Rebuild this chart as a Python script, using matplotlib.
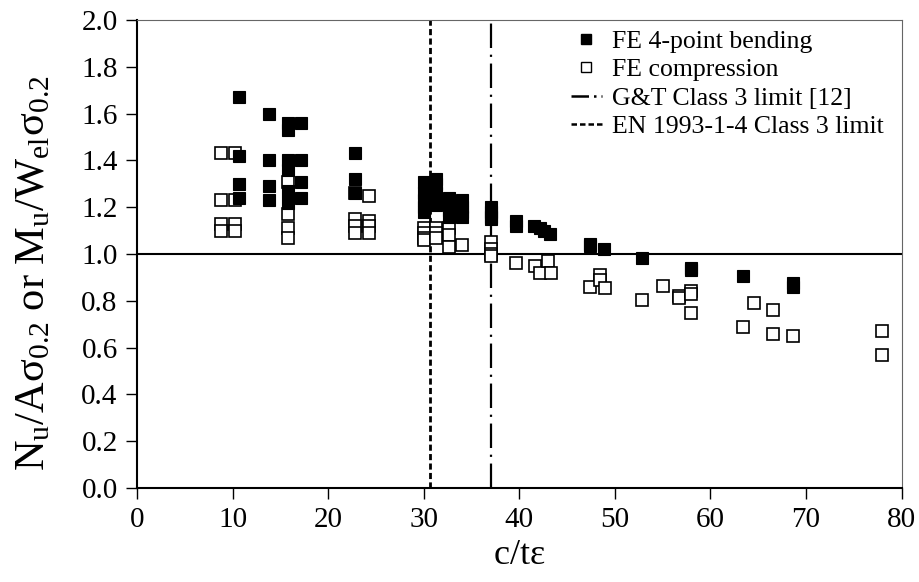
import matplotlib.pyplot as plt
from matplotlib.lines import Line2D

plt.rcParams.update({
    "font.family": "Liberation Serif",
    "mathtext.fontset": "custom",
    "mathtext.rm": "Liberation Serif",
    "mathtext.it": "Liberation Serif:italic",
})

# FE 4-point bending results (c/te, Mu/Wel s0.2)
bend_x = [10.7, 10.7, 10.7, 10.7,
          13.8, 13.8, 13.8, 13.8,
          15.8, 15.8, 15.8, 15.8, 15.8, 15.8,
          17.2, 17.2, 17.2, 17.2,
          22.8, 22.8, 22.8,
          30.0, 30.0, 30.0, 30.0, 30.0,
          31.3, 31.3, 31.3, 31.3,
          32.6, 32.6, 32.6, 32.6,
          34.0, 34.0, 34.0, 34.0,
          37.0, 37.0, 37.0, 37.0,
          39.7, 39.7, 41.5, 42.2, 42.6, 43.2,
          47.4, 47.4, 48.9, 52.8, 58.0, 58.0, 63.4, 68.6, 68.6]
bend_y = [1.67, 1.42, 1.30, 1.24,
          1.60, 1.40, 1.29, 1.23,
          1.56, 1.53, 1.40, 1.36, 1.27, 1.22,
          1.56, 1.40, 1.31, 1.24,
          1.43, 1.32, 1.26,
          1.31, 1.26, 1.23, 1.20, 1.18,
          1.32, 1.30, 1.26, 1.21,
          1.24, 1.22, 1.19, 1.16,
          1.23, 1.20, 1.18, 1.16,
          1.20, 1.18, 1.16, 1.15,
          1.14, 1.12, 1.12, 1.11, 1.10, 1.085,
          1.045, 1.035, 1.02, 0.985, 0.94, 0.93, 0.905, 0.875, 0.86]

# FE compression results (c/te, Nu/A s0.2)
comp_x = [8.8, 8.8, 8.8, 8.8,
          10.2, 10.2, 10.2, 10.2,
          15.8, 15.8, 15.8, 15.8,
          22.8, 22.8, 22.8, 22.8,
          24.3, 24.3, 24.3, 24.3,
          30.0, 30.0, 30.0, 30.0,
          31.3, 31.3, 31.3,
          32.6, 32.6, 32.6,
          34.0,
          37.0, 37.0, 37.0, 37.0,
          39.7, 41.6, 42.2, 43.0, 43.3,
          47.4, 48.4, 48.4, 49.0, 52.8, 55.0, 56.7, 56.7,
          58.0, 58.0, 58.0, 63.4, 64.6, 66.5, 66.5, 68.6, 77.9, 77.9]
comp_y = [1.43, 1.23, 1.13, 1.10,
          1.43, 1.23, 1.13, 1.10,
          1.31, 1.17, 1.11, 1.07,
          1.26, 1.15, 1.12, 1.09,
          1.25, 1.14, 1.12, 1.09,
          1.11, 1.09, 1.07, 1.06,
          1.11, 1.09, 1.07,
          1.11, 1.08, 1.03,
          1.04,
          1.05, 1.02, 1.00, 0.99,
          0.96, 0.95, 0.92, 0.97, 0.92,
          0.86, 0.91, 0.89, 0.855, 0.805, 0.865, 0.82, 0.81,
          0.84, 0.83, 0.75, 0.69, 0.79, 0.76, 0.66, 0.65, 0.67, 0.57]

EN_LIMIT = 30.7   # EN 1993-1-4 Class 3 limit
GT_LIMIT = 37.0   # G&T Class 3 limit [12]

x_ticks = [0, 10, 20, 30, 40, 50, 60, 70, 80]
y_ticks = [0.0, 0.2, 0.4, 0.6, 0.8, 1.0, 1.2, 1.4, 1.6, 1.8, 2.0]

EN_DASH = (0, (2.2, 1.2))
GT_DASH = (0, (11, 3, 1, 3))

fig = plt.figure(figsize=(9.2, 5.82), dpi=100)
ax = fig.add_axes([0.149, 0.1615, 0.831, 0.804])

ax.axhline(1.0, color="black", lw=1.5, zorder=1)
ax.axvline(EN_LIMIT, color="black", lw=2.0, ls=EN_DASH, zorder=1)
ax.axvline(GT_LIMIT, color="black", lw=1.6, ls=GT_DASH, zorder=1)

ax.plot(comp_x, comp_y, ls="none", marker="s", ms=8, mfc="white",
        mec="black", mew=1.2, zorder=3)
ax.plot(bend_x, bend_y, ls="none", marker="s", ms=8, mfc="black",
        mec="black", mew=0.8, zorder=4)

ax.set_xlim(0, 80)
ax.set_ylim(0, 2.0)
ax.set_xticks(x_ticks)
ax.set_yticks(y_ticks)
ax.set_yticklabels([f"{v:.1f}" for v in y_ticks])
ax.tick_params(direction="out", length=8, width=1.0, labelsize=21, pad=6)

for side in ("left", "bottom"):
    ax.spines[side].set_linewidth(1.5)
for side in ("top", "right"):
    ax.spines[side].set_linewidth(0.8)
    ax.spines[side].set_color("#666666")

ax.set_xlabel(r"c/t$\mathregular{\varepsilon}$", fontsize=26, labelpad=4)
ax.set_ylabel("N$_\\mathregular{u}$/A\u03c3$_\\mathregular{0.2}$ or "
              "M$_\\mathregular{u}$/W$_\\mathregular{el}$\u03c3$_\\mathregular{0.2}$",
              fontsize=30.5)
ax.yaxis.set_label_coords(-0.11, 0.46)

handles = [
    Line2D([], [], ls="none", marker="s", ms=6.5, mfc="black", mec="black"),
    Line2D([], [], ls="none", marker="s", ms=6.5, mfc="white", mec="black", mew=1.0),
    Line2D([], [], color="black", lw=1.8, ls=(0, (7, 2, 1, 2))),
    Line2D([], [], color="black", lw=1.8, ls=(0, (2.2, 1.2))),
]
labels = ["FE 4-point bending", "FE compression",
          "G&T Class 3 limit [12]", "EN 1993-1-4 Class 3 limit"]
ax.legend(handles, labels, loc="upper right", bbox_to_anchor=(0.99, 1.0),
          frameon=False, fontsize=18.5, handlelength=1.2, handletextpad=0.4,
          labelspacing=0.2, borderaxespad=0.0)

fig.savefig("out.png", dpi=100, facecolor="white")
